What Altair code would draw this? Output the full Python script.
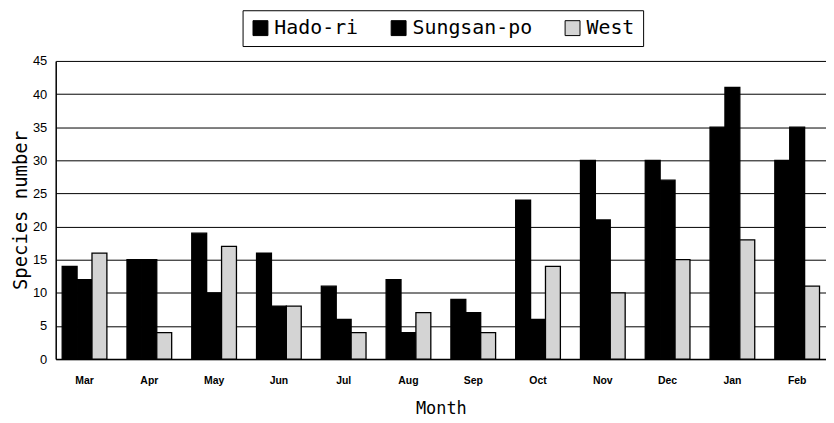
import altair as alt
import pandas as pd

months = ["Mar", "Apr", "May", "Jun", "Jul", "Aug", "Sep", "Oct", "Nov", "Dec", "Jan", "Feb"]
hado_ri = [14, 15, 19, 16, 11, 12, 9, 24, 30, 30, 35, 30]
sungsan_po = [12, 15, 10, 8, 6, 4, 7, 6, 21, 27, 41, 35]
west = [16, 4, 17, 8, 4, 7, 4, 14, 10, 15, 18, 11]
series = ["Hado-ri", "Sungsan-po", "West"]
colors = ["#000000", "#000000", "#d4d4d4"]
y_ticks = [0, 5, 10, 15, 20, 25, 30, 35, 40, 45]

rows = []
for s, vals in zip(series, [hado_ri, sungsan_po, west]):
    for m, v in zip(months, vals):
        rows.append({"Month": m, "Site": s, "Species": v})
df = pd.DataFrame(rows)

mono = "DejaVu Sans Mono"

chart = alt.Chart(df).mark_bar(stroke="black", strokeWidth=1.3).encode(
    x=alt.X(
        "Month:N", sort=months,
        scale=alt.Scale(paddingInner=0.31, paddingOuter=0.1),
        axis=alt.Axis(
            title="Month", labelAngle=0, ticks=False, labelPadding=17,
            labelFont="Liberation Sans", labelFontSize=10.5, labelFontWeight="bold",
            labelColor="black", titleFont=mono, titleFontSize=17,
            titleFontWeight="normal", titleColor="black", titlePadding=14,
            domainColor="black", domainWidth=1.5, grid=False,
        ),
    ),
    xOffset=alt.XOffset("Site:N", sort=series, scale=alt.Scale(paddingInner=0, paddingOuter=0)),
    y=alt.Y(
        "Species:Q",
        scale=alt.Scale(domain=[0, 45], nice=False),
        axis=alt.Axis(
            values=y_ticks, title="Species number", ticks=False, labelPadding=9,
            labelFont="Liberation Sans", labelFontSize=13, labelColor="black",
            titleFont=mono, titleFontSize=19, titleFontWeight="normal",
            titleColor="black", titlePadding=2, domainColor="black", domainWidth=1.5,
            grid=True, gridColor="black", gridWidth=1, gridOpacity=1,
        ),
    ),
    color=alt.Color(
        "Site:N", sort=series,
        scale=alt.Scale(domain=series, range=colors),
        legend=alt.Legend(
            title=None, orient="none", legendX=188, legendY=-51, direction="horizontal",
            symbolType="square", symbolSize=225, symbolStrokeColor="black",
            symbolStrokeWidth=1, labelFont=mono, labelFontSize=20,
            labelColor="black", strokeColor="black", fillColor="white", padding=8,
            columnPadding=30, labelOffset=4,
        ),
    ),
).properties(
    width=775, height=300,
    padding={"left": 3, "top": 0, "right": 0, "bottom": 0},
).configure_view(strokeWidth=0)

chart.save("out.html", embed_options={"renderer": "svg", "actions": False})
